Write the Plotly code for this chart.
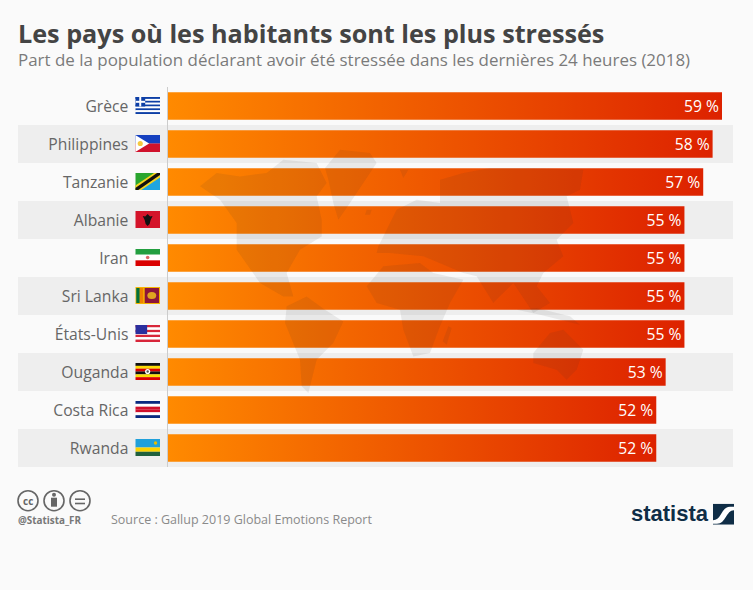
import base64
import plotly.graph_objects as go

countries = ["Grèce", "Philippines", "Tanzanie", "Albanie", "Iran", "Sri Lanka", "États-Unis", "Ouganda", "Costa Rica", "Rwanda"]
values = [59, 58, 57, 55, 55, 55, 55, 53, 52, 52]
title = "Les pays où les habitants sont les plus stressés"
subtitle = "Part de la population déclarant avoir été stressée dans les dernières 24 heures (2018)"
source = "Source : Gallup 2019 Global Emotions Report"
handle = "@Statista_FR"

W, H = 753, 590
L, R, T, B = 168, 733, 87.3, 467.3
UNIT = 554 / 59  # px per percentage point


def px(x):
    return (x - L) / (R - L)


def py(y):
    return (B - y) / (B - T)


def stripes(cols):
    n = len(cols)
    return "".join(f'<rect y="{i*17/n}" width="25" height="{17/n+.1}" fill="{c}"/>' for i, c in enumerate(cols))


flags = {
    "Grèce": stripes(["#0d3fa6", "#fff"] * 4 + ["#0d3fa6"]) + '<rect width="10" height="9.5" fill="#0d3fa6"/><rect x="4" width="2" height="9.5" fill="#fff"/><rect y="3.8" width="10" height="2" fill="#fff"/>',
    "Philippines": stripes(["#1540c0", "#d0122c"]) + '<path d="M0 0L14 8.5L0 17Z" fill="#fff"/><circle cx="5" cy="8.5" r="2.6" fill="#f5c842"/>',
    "Tanzanie": '<rect width="25" height="17" fill="#2aa52e"/><path d="M25 0V17H0Z" fill="#1fa5e0"/><path d="M0 17V12.5L19 0H25V4.5L6 17Z" fill="#f5d520"/><path d="M0 17V15L22 0H25V2L3 17Z" fill="#111"/>',
    "Albanie": '<rect width="25" height="17" fill="#d4142a"/><path d="M12.5 3L15 5.5L17.5 5L15.5 9L14.5 13L12.5 15L10.5 13L9.5 9L7.5 5L10 5.5Z" fill="#111"/>',
    "Iran": stripes(["#239f40", "#fff", "#da0000"]) + '<circle cx="12.5" cy="8.5" r="1.8" fill="#d66"/>',
    "Sri Lanka": '<rect width="25" height="17" fill="#f5b400"/><rect x="1" y="1" width="3.5" height="15" fill="#00703c"/><rect x="4.5" y="1" width="3.5" height="15" fill="#f08000"/><rect x="9.5" y="1" width="14.5" height="15" fill="#8d153a"/><ellipse cx="16.7" cy="8.5" rx="4.5" ry="3.5" fill="#e0a520"/>',
    "États-Unis": stripes(["#d8263a", "#fff"] * 3 + ["#d8263a"]) + '<rect width="12" height="9" fill="#2b2f9e"/>',
    "Ouganda": stripes(["#111", "#fcdc04", "#d90000"] * 2) + '<circle cx="12.5" cy="8.5" r="2.6" fill="#fff"/><circle cx="12.5" cy="8.5" r="1.2" fill="#555"/>',
    "Costa Rica": stripes(["#0a2a80", "#fff", "#d0102c", "#d0102c", "#fff", "#0a2a80"]),
    "Rwanda": '<rect width="25" height="8.5" fill="#20a0da"/><rect y="8.5" width="25" height="4.25" fill="#fad201"/><rect y="12.75" width="25" height="4.25" fill="#20603d"/><circle cx="20.5" cy="4" r="1.7" fill="#e5be01"/>',
}


def svg_uri(body, w=25, h=17):
    s = f'<svg xmlns="http://www.w3.org/2000/svg" width="{w*4}" height="{h*4}" viewBox="0 0 {w} {h}">{body}</svg>'
    return "data:image/svg+xml;base64," + base64.b64encode(s.encode()).decode()


# Decorative world-map watermark, outlines traced in crop coordinates
continents = [
    [(-150, 140), (-100, 100), (-30, 110), (50, 100), (100, 60), (200, 70), (230, 130), (200, 170), (215, 240), (215, 290), (150, 330), (110, 400), (130, 470), (100, 470), (30, 430), (-40, 330), (-40, 250), (-90, 180)],
    [(225, 85), (270, 30), (360, 40), (380, 70), (340, 130), (300, 190), (265, 240), (250, 190), (235, 120)],
    [(110, 500), (170, 470), (225, 510), (280, 545), (250, 610), (200, 660), (175, 760), (155, 740), (150, 660), (105, 550)],
    [(350, 440), (400, 380), (510, 370), (550, 400), (640, 420), (600, 490), (570, 560), (540, 640), (490, 650), (460, 570), (450, 510), (380, 490)],
    [(595, 560), (605, 565), (590, 615), (578, 605)],
    [(385, 320), (400, 290), (440, 210), (500, 180), (570, 190), (570, 120), (640, 100), (720, 85), (850, 85), (1000, 90), (990, 150), (950, 170), (970, 250), (920, 300), (940, 350), (880, 400), (860, 440), (900, 490), (850, 520), (790, 430), (730, 490), (680, 410), (640, 400), (520, 350), (420, 340), (380, 340)],
    [(850, 640), (900, 580), (940, 570), (1000, 630), (980, 690), (950, 720), (920, 690), (850, 670)],
    [(800, 510), (870, 525), (990, 555), (960, 530), (860, 505)],
    [(450, 90), (475, 90), (460, 115)],
    [(350, 210), (365, 210), (360, 225), (345, 225)],
]

shapes = []
# alternating row bands
for i in range(1, len(countries), 2):
    shapes.append(dict(type="rect", xref="paper", yref="y", x0=px(18), x1=1, y0=i - 0.5, y1=i + 0.5,
                       fillcolor="#eeeeee", line_width=0, layer="below"))
for poly in continents:
    path = "M" + "L".join(f"{px(250 + x / 3):.4f} {py(140 + y / 3):.4f}" for x, y in poly) + "Z"
    shapes.append(dict(type="path", xref="paper", yref="paper", path=path, fillcolor="#333333",
                       opacity=0.085, line_width=0, layer="above"))
# cc icons
for cx in (28, 54, 80):
    shapes.append(dict(type="circle", xref="paper", yref="paper", x0=px(cx - 10), x1=px(cx + 10), y0=py(501 + 10), y1=py(501 - 10),
                       line=dict(color="#666666", width=1.6), fillcolor="rgba(0,0,0,0)"))
shapes.append(dict(type="circle", xref="paper", yref="paper", x0=px(52), x1=px(56), y0=py(497), y1=py(493), fillcolor="#666666", line_width=0))
shapes.append(dict(type="rect", xref="paper", yref="paper", x0=px(51), x1=px(57), y0=py(507), y1=py(498), fillcolor="#666666", line_width=0))
for y in (498.7, 503):
    shapes.append(dict(type="rect", xref="paper", yref="paper", x0=px(75), x1=px(85), y0=py(y + 1.6), y1=py(y), fillcolor="#666666", line_width=0))

images = []
for i, c in enumerate(countries):
    cy = T + 38 * i + 18.5
    images.append(dict(source=svg_uri(flags[c]), xref="paper", yref="paper", x=px(135.3), y=py(cy - 8.5),
                       sizex=24.7 / (R - L), sizey=17 / (B - T), xanchor="left", yanchor="top", sizing="stretch", layer="above"))
logo = '<rect width="21" height="21" fill="#0f2d46"/><path d="M0 20V16.5C9 16.5 8 3 17 3H21V6.5C13 6.5 13 20 4 20Z" fill="#fff"/>'
images.append(dict(source=svg_uri(logo, 21, 21), xref="paper", yref="paper", x=px(713), y=py(504), sizex=21 / (R - L), sizey=21 / (B - T),
                   xanchor="left", yanchor="top", sizing="stretch", layer="above"))


def txt(x, y, s, size, color, family="Open Sans", anchor="left"):
    return dict(text=s, x=px(x), y=py(y), xref="paper", yref="paper", xanchor=anchor, yanchor="middle", showarrow=False,
                font=dict(size=size, color=color, family=family))


annotations = [
    txt(16, 33, f"<b>{title}</b>", 25.2, "#444444"),
    txt(16, 60, subtitle, 16.95, "#7a7a7a"),
    txt(109, 520, source, 12.5, "#8a8a8a"),
    txt(16, 520, f"<b>{handle}</b>", 9.9, "#777777"),
    txt(28, 501, "<b>cc</b>", 10, "#666666", anchor="center"),
    txt(629, 514, "<b>statista</b>", 22, "#0f2d46", family="Liberation Sans"),
]

fig = go.Figure(go.Bar(
    y=countries, x=values, orientation="h", width=0.725,
    marker=dict(color="#ee5500", line_width=0),
    text=[f"{v} %" for v in values], textposition="inside", insidetextanchor="end",
    textangle=0, textfont=dict(color="#ffffff", size=16, family="Open Sans"), hoverinfo="skip",
))
fig.update_layout(
    width=W, height=H, autosize=False,
    margin=dict(l=L, r=W - R, t=T, b=H - B, pad=0),
    paper_bgcolor="#fafafa", plot_bgcolor="rgba(0,0,0,0)", showlegend=False,
    shapes=shapes, images=images, annotations=annotations,
    xaxis=dict(range=[0, (R - L) / UNIT], visible=False, fixedrange=True),
    yaxis=dict(autorange="reversed", type="category", showgrid=False, ticks="", ticklabelstandoff=35,
               showline=True, linecolor="#cccccc", linewidth=1.5, zeroline=False,
               tickfont=dict(family="Open Sans", size=15.7, color="#666666")),
)

post = """
document.documentElement.style.overflow='hidden';
document.body.style.margin='0';
document.body.style.background='#fafafa';
var gd=document.getElementById('{plot_id}');
var svg=gd.querySelector('.main-svg');
var NS='http://www.w3.org/2000/svg';
var defs=svg.querySelector('defs')||svg.insertBefore(document.createElementNS(NS,'defs'),svg.firstChild);
var g=document.createElementNS(NS,'linearGradient');
g.setAttribute('id','barfade');
[['0','#ff8a00'],['1','#dd2200']].forEach(function(a){
  var s=document.createElementNS(NS,'stop');s.setAttribute('offset',a[0]);s.setAttribute('stop-color',a[1]);g.appendChild(s);});
defs.appendChild(g);
gd.querySelectorAll('.bars .point path').forEach(function(p){p.style.fill='url(#barfade)';});
"""
fig.write_html("out.html", post_script=post, config=dict(displayModeBar=False, staticPlot=True))
